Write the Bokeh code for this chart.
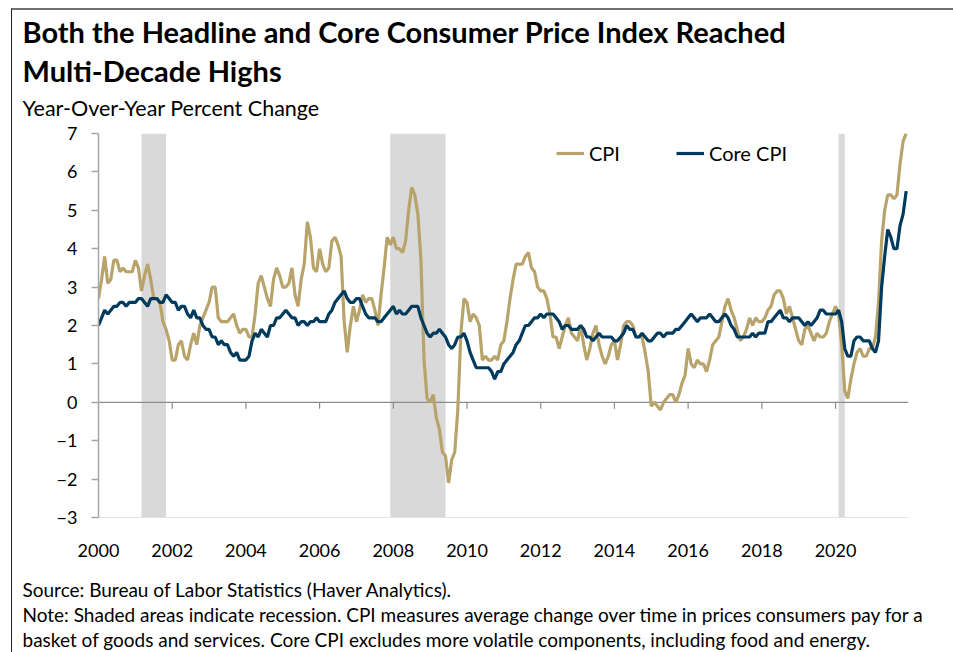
import numpy as np
from bokeh.plotting import figure
from bokeh.models import (Range1d, FixedTicker, Title, Legend, LegendItem, ColumnDataSource)
from bokeh.embed import file_html
from bokeh.resources import INLINE

# ---------------- data ----------------
start_year = 2000
cpi = [
    2.7, 3.2, 3.8, 3.1, 3.2, 3.7, 3.7, 3.4, 3.5, 3.4, 3.4, 3.4,
    3.7, 3.5, 2.9, 3.3, 3.6, 3.2, 2.7, 2.7, 2.6, 2.1, 1.9, 1.6,
    1.1, 1.1, 1.5, 1.6, 1.2, 1.1, 1.5, 1.8, 1.5, 2.0, 2.2, 2.4,
    2.6, 3.0, 3.0, 2.2, 2.1, 2.1, 2.1, 2.2, 2.3, 2.0, 1.8, 1.9,
    1.9, 1.7, 1.7, 2.3, 3.1, 3.3, 3.0, 2.7, 2.5, 3.2, 3.5, 3.3,
    3.0, 3.0, 3.1, 3.5, 2.8, 2.5, 3.2, 3.6, 4.7, 4.3, 3.5, 3.4,
    4.0, 3.6, 3.4, 3.5, 4.2, 4.3, 4.1, 3.8, 2.1, 1.3, 2.0, 2.5,
    2.1, 2.4, 2.8, 2.6, 2.7, 2.7, 2.4, 2.0, 2.8, 3.5, 4.3, 4.1,
    4.3, 4.0, 4.0, 3.9, 4.2, 5.0, 5.6, 5.4, 4.9, 3.7, 1.1, 0.1,
    0.0, 0.2, -0.4, -0.7, -1.3, -1.4, -2.1, -1.5, -1.3, -0.2, 1.8, 2.7,
    2.6, 2.1, 2.3, 2.2, 2.0, 1.1, 1.2, 1.1, 1.1, 1.2, 1.1, 1.5,
    1.6, 2.1, 2.7, 3.2, 3.6, 3.6, 3.6, 3.8, 3.9, 3.5, 3.4, 3.0,
    2.9, 2.9, 2.7, 2.3, 1.7, 1.7, 1.4, 1.7, 2.0, 2.2, 1.8, 1.7,
    1.6, 2.0, 1.5, 1.1, 1.4, 1.8, 2.0, 1.5, 1.2, 1.0, 1.2, 1.5,
    1.6, 1.1, 1.5, 2.0, 2.1, 2.1, 2.0, 1.7, 1.7, 1.7, 1.3, 0.8,
    -0.1, 0.0, -0.1, -0.2, 0.0, 0.1, 0.2, 0.2, 0.0, 0.2, 0.5, 0.7,
    1.4, 1.0, 0.9, 1.1, 1.0, 1.0, 0.8, 1.1, 1.5, 1.6, 1.7, 2.1,
    2.5, 2.7, 2.4, 2.2, 1.9, 1.6, 1.7, 1.9, 2.2, 2.0, 2.2, 2.1,
    2.1, 2.2, 2.4, 2.5, 2.8, 2.9, 2.9, 2.7, 2.3, 2.5, 2.2, 1.9,
    1.6, 1.5, 1.9, 2.0, 1.8, 1.6, 1.8, 1.7, 1.7, 1.8, 2.1, 2.3,
    2.5, 2.3, 1.5, 0.3, 0.1, 0.6, 1.0, 1.3, 1.4, 1.2, 1.2, 1.4,
    1.4, 1.7, 2.6, 4.2, 5.0, 5.4, 5.4, 5.3, 5.4, 6.2, 6.8, 7.0,
]
core_cpi = [
    2.0, 2.2, 2.4, 2.3, 2.4, 2.5, 2.5, 2.6, 2.6, 2.5, 2.6, 2.6,
    2.6, 2.7, 2.7, 2.6, 2.5, 2.7, 2.7, 2.7, 2.6, 2.6, 2.8, 2.7,
    2.6, 2.6, 2.4, 2.5, 2.5, 2.3, 2.2, 2.4, 2.2, 2.2, 2.0, 1.9,
    1.9, 1.7, 1.7, 1.5, 1.6, 1.5, 1.5, 1.3, 1.2, 1.3, 1.1, 1.1,
    1.1, 1.2, 1.6, 1.8, 1.7, 1.9, 1.8, 1.7, 2.0, 2.0, 2.2, 2.2,
    2.3, 2.4, 2.3, 2.2, 2.2, 2.0, 2.1, 2.1, 2.0, 2.1, 2.1, 2.2,
    2.1, 2.1, 2.1, 2.3, 2.4, 2.6, 2.7, 2.8, 2.9, 2.7, 2.6, 2.6,
    2.7, 2.7, 2.5, 2.3, 2.2, 2.2, 2.2, 2.1, 2.1, 2.2, 2.3, 2.4,
    2.5, 2.3, 2.4, 2.3, 2.3, 2.4, 2.5, 2.5, 2.5, 2.2, 2.0, 1.8,
    1.7, 1.8, 1.8, 1.9, 1.8, 1.7, 1.5, 1.4, 1.5, 1.7, 1.7, 1.8,
    1.6, 1.3, 1.1, 0.9, 0.9, 0.9, 0.9, 0.9, 0.8, 0.6, 0.8, 0.8,
    1.0, 1.1, 1.2, 1.3, 1.5, 1.6, 1.8, 2.0, 2.0, 2.1, 2.2, 2.2,
    2.3, 2.2, 2.3, 2.3, 2.3, 2.2, 2.1, 1.9, 2.0, 2.0, 1.9, 1.9,
    1.9, 2.0, 1.9, 1.7, 1.7, 1.6, 1.7, 1.8, 1.7, 1.7, 1.7, 1.7,
    1.6, 1.6, 1.7, 1.8, 2.0, 1.9, 1.9, 1.7, 1.7, 1.8, 1.7, 1.6,
    1.6, 1.7, 1.8, 1.8, 1.7, 1.8, 1.8, 1.8, 1.9, 1.9, 2.0, 2.1,
    2.2, 2.3, 2.2, 2.1, 2.2, 2.2, 2.2, 2.3, 2.2, 2.1, 2.1, 2.2,
    2.3, 2.2, 2.0, 1.9, 1.7, 1.7, 1.7, 1.7, 1.7, 1.8, 1.7, 1.8,
    1.8, 1.8, 2.1, 2.1, 2.2, 2.3, 2.4, 2.2, 2.2, 2.1, 2.2, 2.2,
    2.2, 2.1, 2.0, 2.1, 2.0, 2.1, 2.2, 2.4, 2.4, 2.3, 2.3, 2.3,
    2.3, 2.4, 2.1, 1.4, 1.2, 1.2, 1.6, 1.7, 1.7, 1.6, 1.6, 1.6,
    1.4, 1.3, 1.6, 3.0, 3.8, 4.5, 4.3, 4.0, 4.0, 4.6, 4.9, 5.5,
]
recession_start = [2001 + 2 / 12, 2007 + 11 / 12, 2020 + 1 / 12]
recession_end = [2001 + 10 / 12, 2009 + 5 / 12, 2020 + 3 / 12]
x_ticks = [2000, 2002, 2004, 2006, 2008, 2010, 2012, 2014, 2016, 2018, 2020]
y_ticks = [-3, -2, -1, 0, 1, 2, 3, 4, 5, 6, 7]
x_end = 2021.98

dates = [start_year + i / 12 for i in range(len(cpi))]

title_1 = "Both the Headline and Core Consumer Price Index Reached"
title_2 = "Multi-Decade Highs"
subtitle = "Year-Over-Year Percent Change"
note_lines = [
    "Source: Bureau of Labor Statistics (Haver Analytics).",
    "Note: Shaded areas indicate recession. CPI measures average change over time in prices consumers pay for a",
    "basket of goods and services. Core CPI excludes more volatile components, including food and energy.",
]

GOLD = "#B8A46A"
NAVY = "#003A5C"
FONT = "Lato"

p = figure(frame_width=810, frame_height=384,
           min_border_left=86, min_border_right=45, min_border_top=123, min_border_bottom=135,
           x_range=Range1d(x_ticks[0], x_end), y_range=Range1d(y_ticks[0], y_ticks[-1]),
           output_backend="svg", toolbar_location=None, tools="")
p.outline_line_color = None
p.grid.grid_line_color = None
p.background_fill_color = "white"
p.border_fill_color = "white"
p.margin = (8, 0, 0, 11)
p.styles = {"border-top": "2px solid #6E6E6E", "border-left": "1px solid #222222"}

# recession shading
p.quad(left=recession_start, right=recession_end, bottom=y_ticks[0], top=y_ticks[-1],
       fill_color="#D9D9D9", line_color=None)

# zero line and x ticks on it
p.line(x=[x_ticks[0], x_end], y=[0, 0], line_color="#8C8C8C", line_width=1.2)
p.segment(x0=x_ticks, x1=x_ticks, y0=[0] * len(x_ticks), y1=[-0.17] * len(x_ticks),
          line_color="#8C8C8C", line_width=1.2)

src = ColumnDataSource(dict(x=dates, cpi=cpi, core=core_cpi))
r_cpi = p.line("x", "cpi", source=src, line_color=GOLD, line_width=3.2)
r_core = p.line("x", "core", source=src, line_color=NAVY, line_width=3.2)

# axes
xa = p.xaxis[0]
xa.ticker = FixedTicker(ticks=x_ticks)
xa.axis_line_color = "#E3E3E3"
xa.axis_line_width = 1.2
xa.major_tick_line_color = None
xa.minor_tick_line_color = None
xa.major_label_standoff = 20
xa.major_label_text_font = FONT
xa.major_label_text_font_size = "18px"
xa.major_label_text_color = "#000000"

ya = p.yaxis[0]
ya.ticker = FixedTicker(ticks=y_ticks)
ya.axis_line_color = "#A6A6A6"
ya.axis_line_width = 1.5
ya.major_tick_line_color = "#A6A6A6"
ya.major_tick_line_width = 1.5
ya.major_tick_out = 7
ya.major_tick_in = 0
ya.minor_tick_line_color = None
ya.major_label_standoff = 14
ya.major_label_text_font = FONT
ya.major_label_text_font_size = "18px"
ya.major_label_text_color = "#000000"

legend = Legend(items=[LegendItem(label="CPI", renderers=[r_cpi]),
                       LegendItem(label="Core CPI", renderers=[r_core])],
                orientation="horizontal", location=(458, 352),
                border_line_color=None, background_fill_alpha=0,
                padding=0, margin=0, spacing=56, glyph_width=28, glyph_height=20,
                label_standoff=5, label_height=20,
                label_text_font=FONT, label_text_font_size="20px", label_text_color="#000000")
p.add_layout(legend)

# above panel (first added is nearest the frame; p.title is outermost)
p.add_layout(Title(text=" ", align="left", standoff=7, text_font=FONT,
                   text_font_size="1px"), "above")
p.add_layout(Title(text=subtitle, align="left", offset=-76, standoff=5,
                   text_font=FONT, text_font_size="21.5px", text_font_style="normal",
                   text_color="#000000"), "above")
p.add_layout(Title(text=title_2, align="left", offset=-76, standoff=5,
                   text_font=FONT, text_font_size="29px", text_font_style="bold",
                   text_color="#000000"), "above")
p.title.text = title_1
p.title.align = "left"
p.title.offset = -76
p.title.standoff = 0
p.title.text_font = FONT
p.title.text_font_size = "29px"
p.title.text_font_style = "bold"
p.title.text_color = "#000000"

# small blank gap between the x axis labels and the notes
p.add_layout(Title(text=" ", align="left", standoff=13, text_font=FONT,
                   text_font_size="1px"), "below")

# notes below the x axis
note_standoffs = [0, 0, 0]
for line, so in zip(note_lines, note_standoffs):
    p.add_layout(Title(text=line, align="left", offset=-76, standoff=so,
                       text_font=FONT, text_font_size="19px", text_font_style="normal",
                       text_color="#000000"), "below")

open("out.html", "w").write(file_html(p, INLINE))
